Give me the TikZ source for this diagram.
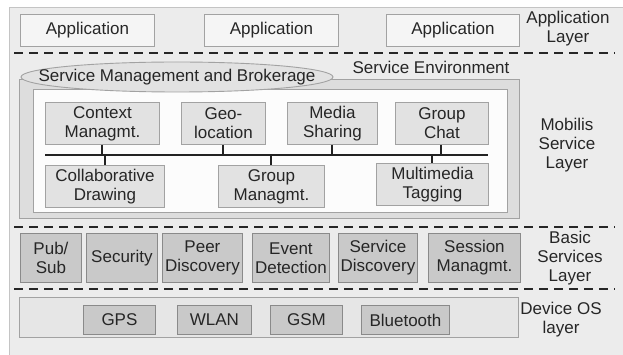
\documentclass[tikz,border=0pt]{standalone}
\usepackage{fontspec}
\setmainfont{Liberation Sans}
\usetikzlibrary{positioning,shapes.geometric}
\definecolor{bgcol}{HTML}{ECECEC}
\definecolor{bgline}{HTML}{C4C4C4}
\definecolor{appfill}{HTML}{F5F5F5}
\definecolor{boxline}{HTML}{A2A2A2}
\definecolor{midfill}{HTML}{E2E2E2}
\definecolor{darkfill}{HTML}{C9C9C9}
\definecolor{inkcol}{HTML}{262626}
\tikzset{
  lbl/.style={font=\fontsize{17}{19}\selectfont, text=inkcol, align=center, inner sep=0pt},
  rbox/.style={lbl, draw=boxline, line width=0.9pt, rectangle, anchor=north west},
  appbox/.style={rbox, fill=appfill},
  svcbox/.style={rbox, fill=midfill},
  basebox/.style={rbox, fill=darkfill, draw=boxline!85!black},
  layersep/.style={draw=inkcol, line width=2.4pt, dash pattern=on 9pt off 6pt},
  busline/.style={draw=inkcol!90!black, line width=2.8pt},
  tap/.style={draw=inkcol!90!black, line width=2.2pt},
}
\begin{document}
\begin{tikzpicture}[x=1pt,y=-1pt]
\useasboundingbox (0,0) rectangle (623,355);
% background panel
\fill[bgcol] (9,7) rectangle (623,355);
\draw[bgline, line width=0.9pt] (9,355) -- (9,7) -- (623,7);

% ---------- application layer ----------
\node[appbox, minimum width=134pt, minimum height=32pt] (app1) at (20,14) {Application};
\node[appbox, minimum width=134pt, minimum height=32pt] (app2) at (204,14) {Application};
\node[appbox, minimum width=133pt, minimum height=32pt] (app3) at (386,14) {Application};
\node[lbl] (applayer) at (568,29) {Application\\Layer};
\coordinate (s1a) at (14,53);
\coordinate (s1b) at (615,53);
\draw[layersep] (s1a) -- (s1b);

% ---------- Mobilis service layer ----------
\node[rbox, fill=midfill!80!darkfill, minimum width=500pt, minimum height=139pt] (senv) at (19,79) {};
\node[rbox, fill=white!70!appfill, minimum width=474pt, minimum height=123pt] (inner) at (33,89) {};
\node[ellipse, draw=boxline, line width=0.9pt, fill=midfill, inner sep=0pt, minimum width=312pt, minimum height=30pt] (smb) at (177,77) {};
\node[lbl] (smbtext) at (smb.center) {Service Management and Brokerage};
\node[lbl] (senvlbl) at (431,67) {Service Environment};

\node[svcbox, minimum width=114pt, minimum height=42pt] (ctx) at (45,102) {Context\\Managmt.};
\node[svcbox, minimum width=84pt, minimum height=42pt] (geo) at (181,102) {Geo-\\location};
\node[svcbox, minimum width=90pt, minimum height=42pt] (media) at (287,102) {Media\\Sharing};
\node[svcbox, minimum width=93pt, minimum height=42pt] (chat) at (395,102) {Group\\Chat};

\node[svcbox, minimum width=119pt, minimum height=42pt] (collab) at (45,165) {Collaborative\\Drawing};
\node[svcbox, minimum width=106pt, minimum height=42pt] (grpm) at (218,165) {Group\\Managmt.};
\node[svcbox, minimum width=112pt, minimum height=42pt] (mmt) at (376,163) {Multimedia\\Tagging};

\coordinate (busL) at (45,155);
\coordinate (busR) at (488,155);
\draw[busline] (busL) -- (busR);
\foreach \n/\x in {ctx/102, geo/223, media/332, chat/441}
  \draw[tap] (\n.south -| {(\x,0)}) -- (\x,155);
\foreach \n/\x in {collab/105, grpm/271, mmt/432}
  \draw[tap] (\x,155) -- (\n.north -| {(\x,0)});

\node[lbl] (mobl) at (567,145) {Mobilis\\Service\\Layer};
\coordinate (s2a) at (14,227);
\coordinate (s2b) at (615,227);
\draw[layersep] (s2a) -- (s2b);

% ---------- basic services layer ----------
\node[basebox, minimum width=61pt, minimum height=49pt] (pub) at (20,233) {Pub/\\Sub};
\node[basebox, minimum width=71pt, minimum height=49pt] (sec) at (86,233) {Security};
\node[basebox, minimum width=80pt, minimum height=49pt] (peer) at (162,233) {Peer\\Discovery};
\node[basebox, minimum width=77pt, minimum height=49pt] (evt) at (252,233) {Event\\Detection};
\node[basebox, minimum width=79pt, minimum height=49pt] (sdisc) at (338,233) {Service\\Discovery};
\node[basebox, minimum width=92pt, minimum height=49pt] (sess) at (428,233) {Session\\Managmt.};
\node[lbl] (basl) at (570,258) {Basic\\Services\\Layer};
\coordinate (s3a) at (14,289);
\coordinate (s3b) at (615,289);
\draw[layersep] (s3a) -- (s3b);

% ---------- device OS layer ----------
\node[rbox, fill=midfill!60!bgcol, minimum width=499pt, minimum height=40pt] (dev) at (19,297) {};
\node[basebox, minimum width=72pt, minimum height=29pt] (gps) at (83,305) {GPS};
\node[basebox, minimum width=74pt, minimum height=29pt] (wlan) at (177,305) {WLAN};
\node[basebox, minimum width=72pt, minimum height=29pt] (gsm) at (270,305) {GSM};
\node[basebox, minimum width=88pt, minimum height=29pt] (bt) at (361,305) {Bluetooth};
\node[lbl] (devl) at (561,320) {Device OS\\layer};
\end{tikzpicture}
\end{document}
